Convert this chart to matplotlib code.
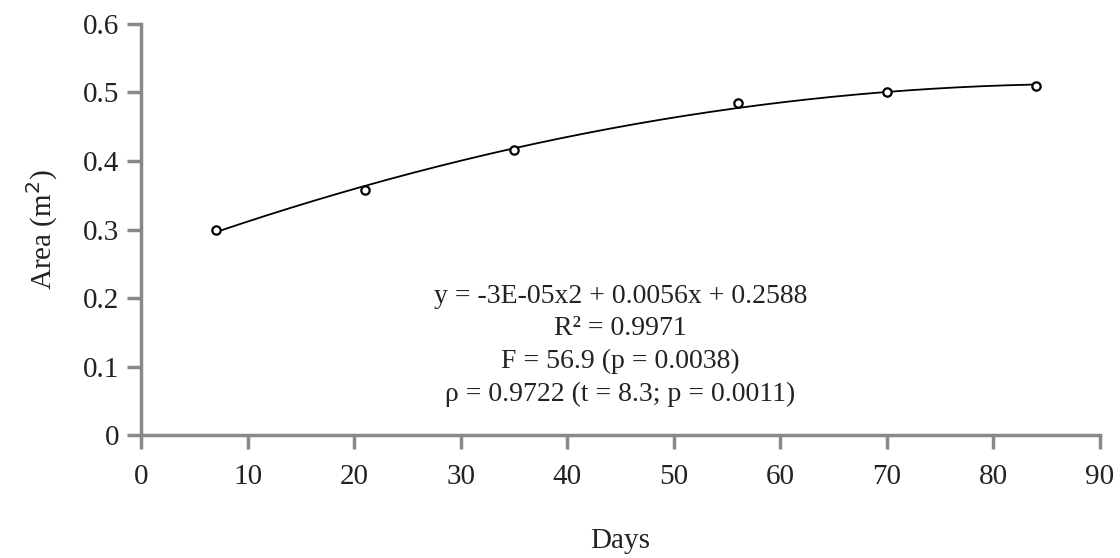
import numpy as np
import matplotlib.pyplot as plt

days = [7, 21, 35, 56, 70, 84]
area = [0.300, 0.358, 0.416, 0.484, 0.500, 0.510]
stats_lines = [
    "y = -3E-05x2 + 0.0056x + 0.2588",
    "R\u00b2 = 0.9971",
    "F = 56.9 (p = 0.0038)",
    "\u03c1 = 0.9722 (t = 8.3; p = 0.0011)",
]

plt.rcParams["font.family"] = ["Liberation Serif", "DejaVu Serif"]

fig = plt.figure(figsize=(11.2, 5.58), dpi=100)
ax = fig.add_axes([0.126, 0.2204, 0.856, 0.7366])

# quadratic trend line fitted to the points
coef = np.polyfit(days, area, 2)
xs = np.linspace(min(days), max(days), 200)
ax.plot(xs, np.polyval(coef, xs), color="black", lw=1.3)
ax.plot(days, area, "o", mfc="white", mec="black", mew=1.6, ms=6)

ax.set_xlim(0, 90)
ax.set_ylim(0, 0.6)
ax.set_xticks(range(0, 91, 10))
ax.set_yticks(np.arange(0, 0.61, 0.1))
ax.set_yticklabels(["0", "0.1", "0.2", "0.3", "0.4", "0.5", "0.6"])

for s in ["top", "right"]:
    ax.spines[s].set_visible(False)
for s in ["left", "bottom"]:
    ax.spines[s].set_color("#888888")
    ax.spines[s].set_linewidth(2.5)
ax.tick_params(direction="out", length=10, width=2.5, color="#888888",
               labelsize=21, labelcolor="#222222")
ax.tick_params(axis="x", pad=11)
ax.tick_params(axis="y", pad=6)

ax.set_xlabel("Days", fontsize=21, labelpad=27, color="#222222")
ax.set_ylabel("Area (m$^2$)", fontsize=21, labelpad=16, color="#222222")

ax.text(0.5, 0.218, "\n".join(stats_lines), transform=ax.transAxes,
        ha="center", va="center", fontsize=20, linespacing=1.4,
        color="#222222")

plt.savefig("out.png", dpi=100)
